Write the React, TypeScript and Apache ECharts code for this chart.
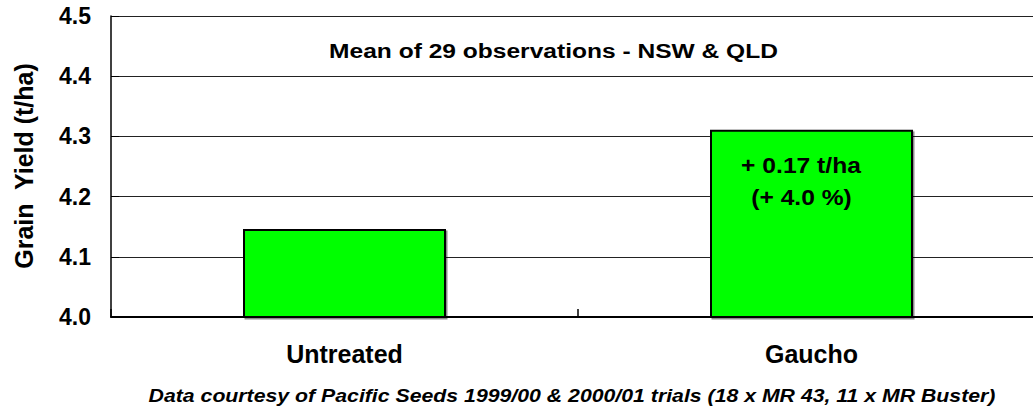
import React, { useEffect, useRef } from "react";
import * as echarts from "echarts";

const categories = ["Untreated", "Gaucho"];
const yieldValues = [4.146, 4.311];
const yTicks = [4.0, 4.1, 4.2, 4.3, 4.4, 4.5];
const titleText = "Mean of 29 observations - NSW & QLD";
const barNote = ["+ 0.17 t/ha", "(+ 4.0 %)"];
const footerText = "Data courtesy of Pacific Seeds 1999/00 & 2000/01 trials (18 x MR 43, 11 x MR Buster)";
const yAxisName = "Grain  Yield (t/ha)";

const FONT = "Liberation Sans, Arial, sans-serif";

function txt(text: string, x: number, y: number, size: number, scaleX: number, extra: any = {}) {
  return {
    type: "text",
    x,
    y,
    scaleX,
    z: 100,
    style: {
      text,
      fontFamily: FONT,
      fontWeight: "bold",
      fontSize: size,
      fill: "#000",
      align: "center",
      verticalAlign: "middle",
      ...(extra.style || {}),
    },
    ...(extra.el || {}),
  };
}

export default function App() {
  const ref = useRef<HTMLDivElement>(null);
  useEffect(() => {
    if (!ref.current) return;
    const chart = echarts.init(ref.current, null, { renderer: "svg" });
    chart.setOption({
      animation: false,
      backgroundColor: "#ffffff",
      grid: { left: 111, top: 16, width: 934, height: 301 },
      xAxis: {
        type: "category",
        data: categories,
        axisLine: { lineStyle: { color: "#000", width: 2 } },
        axisTick: { show: true, inside: true, length: 8, alignWithLabel: false, lineStyle: { color: "#000", width: 1.5 } },
        axisLabel: { color: "#000", fontFamily: FONT, fontWeight: "bold", fontSize: 25, margin: 24 },
      },
      yAxis: {
        type: "value",
        min: 4.0,
        max: 4.5,
        interval: 0.1,
        axisLine: { show: true, lineStyle: { color: "#000", width: 1.5 } },
        axisTick: { show: true, inside: true, length: 8, lineStyle: { color: "#000" } },
        splitLine: { show: true, lineStyle: { color: "#222", width: 1.2 } },
        axisLabel: {
          color: "#000",
          fontFamily: FONT,
          fontWeight: "bold",
          fontSize: 23,
          margin: 20,
          formatter: (v: number) => {
            const t = yTicks.find((x) => Math.abs(x - v) < 1e-6);
            return (t !== undefined ? t : v).toFixed(1);
          },
        },
      },
      series: [
        {
          type: "bar",
          data: yieldValues,
          barWidth: 203,
          itemStyle: {
            color: "#00ff00",
            borderColor: "#000",
            borderWidth: 2,
            shadowColor: "rgba(0,0,0,0.45)",
            shadowOffsetX: 1.5,
            shadowOffsetY: 1.5,
            shadowBlur: 0,
          },
        },
      ],
      graphic: [
        txt(titleText, 553.5, 50.5, 21, 1.17),
        txt(barNote[0], 801, 165, 22, 1.12),
        txt(barNote[1], 801.5, 197, 22, 1.12),
        txt(yAxisName, 24, 166, 25, 1, { el: { rotation: Math.PI / 2 } }),
        txt(footerText, 572, 396, 18.5, 1.15, { style: { fontStyle: "italic" } }),
      ],
    });
    return () => chart.dispose();
  }, []);
  return (
    <div style={{ position: "fixed", left: 0, top: 0, width: 1033, height: 411, overflow: "hidden", background: "#fff" }}>
      <div ref={ref} style={{ position: "absolute", left: 0, top: 0, width: 1060, height: 411 }} />
    </div>
  );
}
